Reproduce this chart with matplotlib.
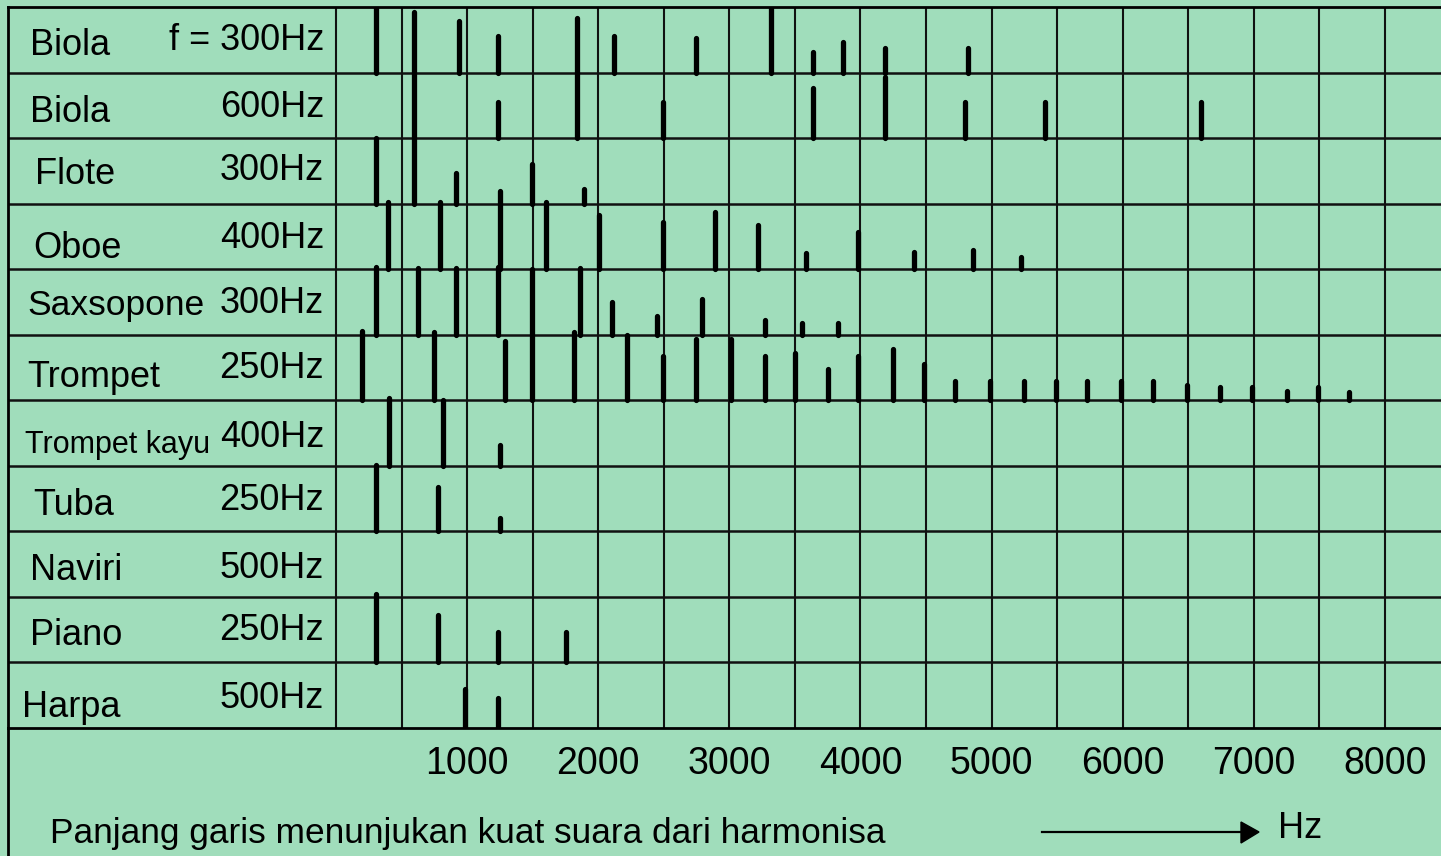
import matplotlib.pyplot as plt
from matplotlib.transforms import blended_transform_factory

# rows, top to bottom
instruments = ['Biola', 'Biola', 'Flote', 'Oboe', 'Saxsopone', 'Trompet',
               'Trompet kayu', 'Tuba', 'Naviri', 'Piano', 'Harpa']
fundamentals = ['f = 300Hz', '600Hz', '300Hz', '400Hz', '300Hz', '250Hz',
                '400Hz', '250Hz', '500Hz', '250Hz', '500Hz']

# harmonic positions (Hz) and line length (in row heights)
biola300_hz = [305, 938, 1236, 2120, 2746, 3318, 3638, 3867, 4188, 4821]
biola300_len = [1.0, 0.79, 0.56, 0.56, 0.52, 1.0, 0.32, 0.47, 0.37, 0.38]

biola600_hz = [1236, 1838, 2494, 3638, 4188, 4798, 5408, 6598]
biola600_len = [0.55, 1.83, 0.55, 0.76, 0.93, 0.55, 0.55, 0.55]

flote_hz = [305, 595, 915, 1495, 1892]
flote_len = [1.0, 2.93, 0.47, 0.61, 0.23]

oboe_hz = [397, 793, 1251, 1602, 2006, 2494, 2891, 3219, 3585, 3982, 4409, 4859, 5225]
oboe_len = [1.03, 1.03, 1.19, 1.02, 0.82, 0.72, 0.87, 0.67, 0.24, 0.56, 0.26, 0.30, 0.18]

sax_hz = [305, 625, 915, 1236, 1861, 2105, 2449, 2792, 3272, 3555, 3829]
sax_len = [1.04, 1.02, 1.02, 1.04, 1.02, 0.50, 0.29, 0.55, 0.23, 0.18, 0.18]

trompet_hz = [198, 748, 1289, 1495, 1815, 2220, 2494, 2746, 3013, 3272, 3501,
              3753, 3982, 4249, 4485, 4722, 4989, 5248, 5492, 5729, 5988, 6232,
              6491, 6743, 6987, 7254, 7490, 7727]
trompet_len = [1.05, 1.04, 0.90, 2.0, 1.04, 0.99, 0.67, 0.93, 0.93, 0.67, 0.72,
               0.47, 0.67, 0.78, 0.55, 0.29, 0.29, 0.29, 0.29, 0.29, 0.29, 0.29,
               0.23, 0.20, 0.20, 0.14, 0.20, 0.12]

kayu_hz = [405, 816, 1251]
kayu_len = [1.04, 1.0, 0.31]

tuba_hz = [305, 778, 1251]
tuba_len = [1.02, 0.67, 0.20]

naviri_hz = []
naviri_len = []

piano_hz = [305, 778, 1236, 1754]
piano_len = [1.04, 0.73, 0.47, 0.47]

harpa_hz = [984, 1236]
harpa_len = [0.6, 0.46]

freq_ticks = [1000, 2000, 3000, 4000, 5000, 6000, 7000, 8000]

rows_hz = [biola300_hz, biola600_hz, flote_hz, oboe_hz, sax_hz, trompet_hz,
           kayu_hz, tuba_hz, naviri_hz, piano_hz, harpa_hz]
rows_len = [biola300_len, biola600_len, flote_len, oboe_len, sax_len, trompet_len,
            kayu_len, tuba_len, naviri_len, piano_len, harpa_len]

BG = '#A0DDBB'
W, H = 1441, 856
plt.rcParams['font.family'] = ['Liberation Sans', 'DejaVu Sans']

fig = plt.figure(figsize=(W / 100, H / 100), dpi=100)
fig.patch.set_facecolor(BG)

# grid area: x from 8px to right edge, y from 7px to 728px
ax = fig.add_axes([8 / W, (H - 728) / H, (W - 8) / W, (728 - 7) / H])
ax.set_facecolor(BG)
px_per_khz = 131.1
ax.set_xlim((8 - 336) / px_per_khz * 1000, (W - 336) / px_per_khz * 1000)
n = len(instruments)
ax.set_ylim(n, 0)

for s in ['left', 'top', 'bottom']:
    ax.spines[s].set_linewidth(2.0)
ax.spines['right'].set_visible(False)

# grid lines
ax.vlines(range(0, 8001, 500), 0, n, color='#111111', lw=1.5)
ax.hlines(range(1, n), ax.get_xlim()[0], ax.get_xlim()[1], color='#111111', lw=1.8)

# harmonic lines
for i, (hz, ln) in enumerate(zip(rows_hz, rows_len)):
    if not hz:
        continue
    bottom = i + 1
    tops = [bottom - l for l in ln]
    ax.vlines(hz, [bottom] * len(hz), tops, color='black', lw=3.8, capstyle='round')

ax.set_yticks([])
ax.set_xticks(freq_ticks)
ax.set_xticklabels([str(t) for t in freq_ticks], fontsize=27)
ax.tick_params(axis='x', length=0, pad=13)

# row labels
trans = blended_transform_factory(ax.transAxes, ax.transData)
name_x = [30, 30, 35, 33, 27, 27, 25, 33, 30, 30, 22]
name_base = [55, 122, 184, 258, 315, 387, 453, 515, 580, 645, 717]
name_size = [26, 26, 26, 26, 25.5, 26, 22, 26, 26, 26, 26]
hz_base = [50, 117, 180, 248, 313, 378, 447, 510, 578, 640, 708]
row_h = (728 - 7) / n
for i in range(n):
    ax.text((name_x[i] - 8) / (W - 8), (name_base[i] - 7) / row_h, instruments[i],
            transform=trans, fontsize=name_size[i], ha='left', va='baseline')
    ax.text((324 - 8) / (W - 8), (hz_base[i] - 7) / row_h, fundamentals[i],
            transform=trans, fontsize=26, ha='right', va='baseline')

# left border continues below the grid
fig.add_artist(plt.Line2D([8 / W, 8 / W], [0, (H - 728) / H], color='black', lw=2.0))

fig.text(50 / W, 1 - 843 / H, 'Panjang garis menunjukan kuat suara dari harmonisa',
         fontsize=25.4, ha='left', va='baseline')
fig.text(1278 / W, 1 - 838 / H, 'Hz', fontsize=26, ha='left', va='baseline')
fig.add_artist(plt.Line2D([1042 / W, 1245 / W], [1 - 832 / H, 1 - 832 / H], color='black', lw=1.6))
fig.patches.append(plt.Polygon([[1241 / W, 1 - 822 / H], [1259 / W, 1 - 832 / H], [1241 / W, 1 - 843 / H]],
                               closed=True, color='black', transform=fig.transFigure, figure=fig))

fig.savefig('out.png', dpi=100, facecolor=BG)
